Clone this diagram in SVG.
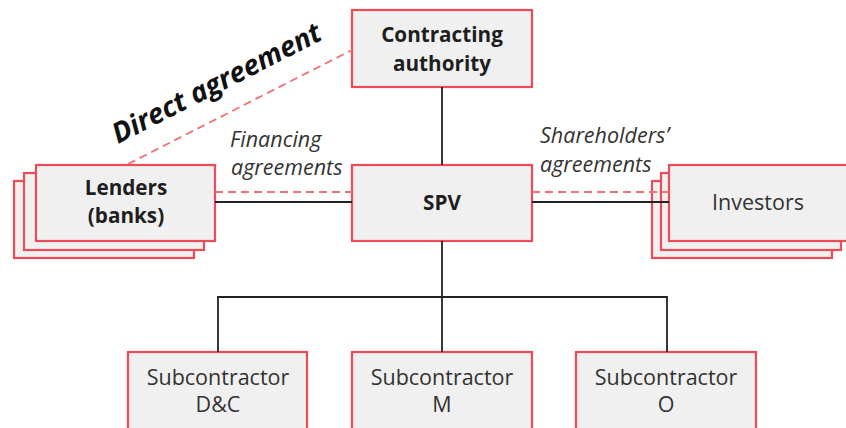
<svg xmlns="http://www.w3.org/2000/svg" width="846" height="428" viewBox="0 0 846 428">
<style>
.box{fill:#f0f0f0;stroke:#ec4c57;stroke-width:2.2}
.b{font-family:"Open Sans",sans-serif;font-weight:bold;font-size:20.7px;fill:#1e1e1e;text-anchor:middle}
.r{font-family:"Open Sans",sans-serif;font-size:21.5px;fill:#333;text-anchor:middle}
.i{font-family:"Open Sans",sans-serif;font-style:italic;font-size:21.5px;fill:#333}
.ln{stroke:#222;stroke-width:1.8;fill:none}
.dl{stroke:#f0707a;stroke-width:1.8;fill:none;stroke-dasharray:8 5}
</style>
<rect width="846" height="428" fill="#ffffff"/>
<g id="nodes">
<g id="contracting-authority">
<rect class="box" x="352" y="10" width="180" height="77"/>
<text class="b" x="442" y="42">Contracting</text>
<text class="b" x="442" y="71">authority</text>
</g>
<g id="spv">
<rect class="box" x="352" y="165" width="180" height="76"/>
<text class="b" x="442" y="210">SPV</text>
</g>
<g id="lenders">
<rect class="box" x="14" y="181" width="180" height="77"/>
<rect class="box" x="24" y="173" width="180" height="77"/>
<rect class="box" x="36" y="165" width="179" height="76"/>
<text class="b" x="126" y="195">Lenders</text>
<text class="b" x="126" y="223">(banks)</text>
</g>
<g id="investors">
<rect class="box" x="652" y="181" width="180" height="77"/>
<rect class="box" x="661" y="173" width="180" height="77"/>
<rect class="box" x="669" y="165" width="180" height="76"/>
<text class="r" x="758" y="210">Investors</text>
</g>
<g id="sub-dc">
<rect class="box" x="128" y="352" width="179" height="80"/>
<text class="r" x="218" y="385">Subcontractor</text>
<text class="r" x="218" y="412">D&amp;C</text>
</g>
<g id="sub-m">
<rect class="box" x="352" y="352" width="180" height="80"/>
<text class="r" x="442" y="385">Subcontractor</text>
<text class="r" x="442" y="412">M</text>
</g>
<g id="sub-o">
<rect class="box" x="576" y="352" width="180" height="80"/>
<text class="r" x="666" y="385">Subcontractor</text>
<text class="r" x="666" y="412">O</text>
</g>
</g>
<g id="connectors">
<line class="ln" x1="442" y1="87" x2="442" y2="165"/>
<line class="ln" x1="442" y1="241" x2="442" y2="352"/>
<polyline class="ln" points="218,352 218,297 667,297 667,352"/>
<line class="ln" x1="215" y1="202" x2="352" y2="202"/>
<line class="ln" x1="532" y1="202" x2="669" y2="202"/>
<line class="dl" x1="215" y1="192" x2="352" y2="192"/>
<line class="dl" x1="532" y1="192" x2="669" y2="192"/>
<line class="dl" x1="128" y1="164" x2="352" y2="50"/>
</g>
<g id="labels">
<text class="i" x="230" y="147">Financing</text>
<text class="i" x="231" y="175">agreements</text>
<text class="i" x="540" y="143">Shareholders’</text>
<text class="i" x="540" y="172">agreements</text>
<text font-family="Open Sans, sans-serif" font-weight="bold" font-style="italic" font-size="28" fill="#111" transform="translate(118,144) rotate(-27)">Direct agreement</text>
</g>
</svg>
